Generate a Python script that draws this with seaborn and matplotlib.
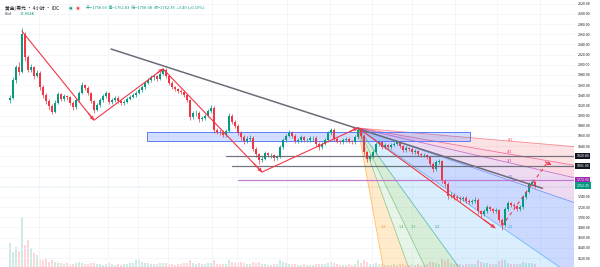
import matplotlib
matplotlib.use("Agg")
import matplotlib.pyplot as plt
import matplotlib.transforms as mtransforms
from matplotlib.patches import Rectangle, Circle
import numpy as np
import pandas as pd
import seaborn as sns

# ---------------- data ----------------
first_open = 1930
closes = [
    1935, 1970, 1995, 1985, 2060, 2015, 1990, 1995, 1978, 1984,
    1956, 1940, 1928, 1918, 1908, 1925, 1942, 1932, 1938, 1936,
    1925, 1917, 1930, 1945, 1960, 1955, 1944, 1928, 1912, 1920,
    1930, 1938, 1944, 1926, 1930, 1935, 1928, 1924, 1927, 1933,
    1937, 1940, 1945, 1950, 1956, 1965, 1970, 1975, 1977, 1973,
    1982, 1990, 1978, 1965, 1956, 1952, 1949, 1946, 1940, 1930,
    1898, 1905, 1906, 1893, 1895, 1900, 1910, 1915, 1872, 1868,
    1867, 1862, 1870, 1900, 1888, 1880, 1866, 1858, 1850, 1855,
    1856, 1835, 1824, 1812, 1815, 1826, 1822, 1822, 1816, 1819,
    1838, 1852, 1860, 1866, 1860, 1850, 1852, 1857, 1852, 1852,
    1856, 1856, 1845, 1838, 1845, 1852, 1865, 1872, 1855, 1850,
    1848, 1852, 1854, 1850, 1848, 1858, 1872, 1860, 1828, 1815,
    1820, 1828, 1845, 1848, 1838, 1842, 1838, 1843, 1845, 1848,
    1840, 1832, 1836, 1835, 1828, 1830, 1824, 1822, 1822, 1818,
    1805, 1795, 1808, 1810, 1772, 1766, 1742, 1744, 1740, 1738,
    1736, 1738, 1733, 1730, 1732, 1735, 1712, 1706, 1712, 1720,
    1716, 1712, 1714, 1695, 1684, 1716, 1728, 1725, 1722, 1717,
    1720, 1740, 1750, 1765, 1770, 1762.35,
]
highs = [
    1940, 1975, 2000, 2005, 2072, 2064, 2020, 2002, 1998, 1990,
    1988, 1960, 1944, 1932, 1922, 1930, 1946, 1945, 1942, 1941,
    1939, 1928, 1934, 1949, 1966, 1963, 1958, 1947, 1931, 1924,
    1934, 1942, 1948, 1947, 1934, 1939, 1938, 1931, 1930, 1936,
    1940, 1944, 1948, 1954, 1960, 1969, 1974, 1979, 1981, 1980,
    1986, 1994, 1993, 1981, 1968, 1959, 1955, 1953, 1950, 1943,
    1933, 1909, 1911, 1909, 1899, 1904, 1914, 1920, 1918, 1876,
    1873, 1871, 1874, 1905, 1903, 1891, 1883, 1869, 1861, 1859,
    1861, 1859, 1838, 1827, 1820, 1830, 1829, 1826, 1825, 1823,
    1842, 1856, 1864, 1871, 1869, 1863, 1856, 1861, 1860, 1856,
    1860, 1860, 1859, 1848, 1849, 1856, 1869, 1876, 1875, 1858,
    1853, 1856, 1858, 1857, 1853, 1862, 1877, 1875, 1863, 1831,
    1824, 1832, 1849, 1852, 1851, 1846, 1845, 1847, 1849, 1852,
    1851, 1843, 1840, 1839, 1838, 1834, 1833, 1827, 1826, 1825,
    1821, 1808, 1812, 1814, 1813, 1776, 1769, 1749, 1748, 1744,
    1742, 1742, 1741, 1736, 1736, 1739, 1738, 1715, 1716, 1724,
    1723, 1719, 1718, 1717, 1699, 1720, 1732, 1731, 1728, 1725,
    1724, 1744, 1754, 1769, 1775, 1772,
]
lows = [
    1925, 1932, 1965, 1980, 1983, 2008, 1985, 1986, 1972, 1975,
    1950, 1935, 1922, 1912, 1903, 1905, 1922, 1928, 1929, 1931,
    1921, 1912, 1914, 1927, 1942, 1950, 1940, 1924, 1906, 1909,
    1917, 1927, 1935, 1922, 1923, 1927, 1925, 1920, 1921, 1924,
    1930, 1934, 1937, 1942, 1947, 1953, 1962, 1967, 1971, 1969,
    1970, 1979, 1974, 1961, 1952, 1948, 1945, 1942, 1936, 1926,
    1892, 1894, 1900, 1888, 1889, 1891, 1897, 1906, 1866, 1863,
    1862, 1857, 1858, 1867, 1884, 1876, 1862, 1853, 1845, 1846,
    1851, 1830, 1819, 1805, 1808, 1812, 1818, 1817, 1811, 1812,
    1816, 1835, 1849, 1857, 1856, 1846, 1846, 1849, 1848, 1848,
    1849, 1851, 1841, 1833, 1835, 1842, 1849, 1862, 1851, 1846,
    1844, 1845, 1849, 1846, 1844, 1845, 1855, 1856, 1823, 1809,
    1811, 1817, 1825, 1841, 1834, 1835, 1834, 1835, 1840, 1842,
    1836, 1828, 1829, 1831, 1824, 1825, 1820, 1818, 1818, 1814,
    1800, 1790, 1792, 1804, 1767, 1760, 1737, 1738, 1735, 1734,
    1731, 1732, 1729, 1726, 1726, 1728, 1707, 1701, 1702, 1709,
    1712, 1708, 1708, 1690, 1676, 1681, 1713, 1721, 1718, 1713,
    1713, 1717, 1737, 1747, 1762, 1758.08,
]
volumes = [
    44, 27, 36, 30, 92, 40, 49, 35, 25, 22,
    13, 12, 16, 10, 13, 9, 8, 7, 6, 7,
    6, 5, 7, 9, 8, 6, 5, 7, 8, 6,
    5, 4, 6, 7, 5, 4, 5, 4, 5, 6,
    7, 8, 12, 13, 9, 8, 7, 6, 6, 5,
    7, 8, 7, 6, 5, 4, 5, 6, 7, 8,
    13, 7, 6, 7, 5, 6, 7, 8, 12, 6,
    5, 5, 6, 13, 10, 7, 8, 9, 8, 6,
    5, 9, 8, 10, 6, 5, 4, 4, 5, 5,
    12, 9, 7, 6, 5, 5, 4, 4, 5, 4,
    4, 4, 6, 6, 5, 6, 8, 9, 7, 5,
    4, 4, 4, 5, 4, 6, 12, 8, 13, 9,
    6, 6, 8, 5, 5, 4, 4, 4, 5, 4,
    5, 6, 4, 4, 5, 4, 5, 4, 4, 5,
    9, 10, 8, 6, 15, 11, 14, 8, 6, 5,
    5, 4, 5, 5, 6, 5, 12, 10, 8, 7,
    6, 6, 5, 11, 13, 12, 8, 6, 5, 6,
    5, 9, 8, 8, 7, 5,
]
price_ticks = list(range(1620, 2121, 20))

# drawings (bar index, price)
zigzag_idx = [4, 28, 51, 84, 116, 161.7]
zigzag_price = [2066, 1891, 1992, 1789, 1876, 1679]
proj_idx = [164, 179]
proj_price = [1683, 1807]
trend_idx = [33.7, 177.5]
trend_price = [2031, 1757]
zone_idx = [45.7, 153.3]
zone_price = [1850, 1868]
hline_levels = [1820.80, 1801.00, 1772.50]
hline_start = [72, 74, 76]
hline_colors = ["#5d606b", "#5d606b", "#ba68c8"]
box_labels = ["1820.80", "1801.00", "1772.50", "1762.35"]
box_levels = [1820.80, 1801.00, 1772.50, 1762.35]
box_colors = ["#131722", "#131722", "#9c27b0", "#089981"]
fan_origin = (116, 1875.7)
fan_end = (164.3, 1679)
fan_labels = ["1/8", "1/4", "1/3", "1/2", "1/1", "2/1", "3/1", "4/1", "8/1"]
fan_dx = [1/8, 1/4, 1/3, 1/2, 1, 1, 1, 1, 1]
fan_dy = [1, 1, 1, 1, 1, 1/2, 1/3, 1/4, 1/8]
fan_line_colors = ["#ff9800", "#4caf50", "#4caf50", "#089981", "#2196f3",
                   "#2962ff", "#9c27b0", "#e91e63", "#f23645"]
fan_fill_colors = ["#ff9800", "#4caf50", "#4caf50", "#2196f3", "#2962ff",
                   "#9c27b0", "#e91e63", "#f23645"]
fan_fill_alpha = [0.2, 0.13, 0.22, 0.16, 0.24, 0.17, 0.17, 0.14]

UP = "#089981"
DN = "#f23645"

# ---------------- figure ----------------
sns.set_theme(style="white")
plt.rcParams["font.family"] = ["Noto Sans CJK SC", "DejaVu Sans"]

fig = plt.figure(figsize=(6.0, 2.67), dpi=100, facecolor="white")
ax = fig.add_axes([0, 0, 574 / 600, 1])
axv = ax.twinx()
ax.set_zorder(axv.get_zorder() + 1)
ax.patch.set_visible(False)

n = len(closes)
idx = np.arange(n)
opens = [first_open] + closes[:-1]
df = pd.DataFrame({"i": idx, "open": opens, "close": closes,
                   "high": highs, "low": lows, "vol": volumes})
df["up"] = df["close"] >= df["open"]
df["color"] = np.where(df["up"], UP, DN)

x_lo, x_hi = -10 / 3, 564 / 3
ax.set_xlim(x_lo, x_hi)
ax.set_ylim(1602.3, 2127.4)
axv.set_ylim(0, 490)

# grid
for p in price_ticks:
    ax.axhline(p, color="#f0f3fa", lw=0.5, zorder=0)
for px in [39, 69, 108, 138, 168, 212, 237, 287, 330, 372, 412, 455, 497, 540]:
    ax.axvline((px - 10) / 3, color="#f0f3fa", lw=0.5, zorder=0)

# volume
axv.bar(df["i"], df["vol"], width=0.7, color=df["color"], alpha=0.2, linewidth=0)
axv.set_yticks([])
for s in axv.spines.values():
    s.set_visible(False)

# gann fan
x0, y0 = fan_origin
DX = fan_end[0] - x0
DY = fan_end[1] - y0
far = []
for fx, fy in zip(fan_dx, fan_dy):
    far.append((x0 + 12 * fx * DX, y0 + 12 * fy * DY))
for k in range(len(fan_fill_colors)):
    pa, pb = far[k], far[k + 1]
    ax.fill([x0, pa[0], pb[0]], [y0, pa[1], pb[1]], color=fan_fill_colors[k],
            alpha=fan_fill_alpha[k], lw=0, zorder=1)
for k, (fx, fy) in enumerate(zip(fan_dx, fan_dy)):
    ax.plot([x0, far[k][0]], [y0, far[k][1]], color=fan_line_colors[k], lw=0.6,
            alpha=0.55, zorder=1.5)
    lx, ly = x0 + fx * DX, y0 + fy * DY
    ax.text(lx + 1.5, ly + 2, fan_labels[k], fontsize=2.6, color=fan_line_colors[k],
            ha="left", va="center", zorder=2, alpha=0.9)

# zone rectangle
ax.add_patch(Rectangle((zone_idx[0], zone_price[0]), zone_idx[1] - zone_idx[0],
                       zone_price[1] - zone_price[0], facecolor="#2962ff", alpha=0.2,
                       edgecolor="none", zorder=1.6))
ax.add_patch(Rectangle((zone_idx[0], zone_price[0]), zone_idx[1] - zone_idx[0],
                       zone_price[1] - zone_price[0], facecolor="none",
                       edgecolor="#5b7cfa", lw=0.7, zorder=1.7))

# candles
ax.vlines(df["i"], df["low"], df["high"], colors=df["color"], lw=0.5, zorder=3)
body_lo = np.minimum(df["open"], df["close"])
body_h = np.maximum(np.abs(df["close"] - df["open"]), 0.8)
ax.bar(df["i"], body_h, bottom=body_lo, width=0.7, color=df["color"], lw=0, zorder=3.1)

# horizontal levels
for lvl, st, col in zip(hline_levels, hline_start, hline_colors):
    ax.plot([st, x_hi], [lvl, lvl], color=col, lw=0.9, alpha=0.85, zorder=4)
ax.axhline(closes[-1], color=UP, lw=0.4, ls=(0, (1, 3)), alpha=0.5, zorder=4)

# trend line
sns.lineplot(x=trend_idx, y=trend_price, ax=ax, color="#6a6d78", lw=1.1,
             sort=False, estimator=None, zorder=5)

# zigzag arrows
sns.lineplot(x=zigzag_idx, y=zigzag_price, ax=ax, color=DN, lw=0.8,
             sort=False, estimator=None, zorder=5)
for k in range(1, len(zigzag_idx)):
    xa, ya = zigzag_idx[k - 1], zigzag_price[k - 1]
    xb, yb = zigzag_idx[k], zigzag_price[k]
    xs, ys = xb - 0.08 * (xb - xa), yb - 0.08 * (yb - ya)
    ax.annotate("", xy=(xb, yb), xytext=(xs, ys),
                arrowprops=dict(arrowstyle="->", color=DN, lw=0.8,
                                mutation_scale=5, shrinkA=0, shrinkB=0), zorder=5)
# projection (dashed)
ax.plot(proj_idx, proj_price, color=DN, lw=0.8, ls=(0, (3, 3)), zorder=5)
ax.annotate("", xy=(proj_idx[1] + 1.5, proj_price[1] - 4),
            xytext=(proj_idx[1] - 0.5, proj_price[1] + 2),
            arrowprops=dict(arrowstyle="->", color=DN, lw=0.8, mutation_scale=5,
                            shrinkA=0, shrinkB=0), zorder=5)

# axis styling
for s in ax.spines.values():
    s.set_visible(False)
ax.set_xticks([])
ax.yaxis.tick_right()
ax.set_yticks(price_ticks)
tick_text = []
for p in price_ticks:
    hidden = any(abs(p - b) < 9 for b in box_levels)
    tick_text.append("" if hidden else f"{p:.2f}")
ax.set_yticklabels(tick_text)
ax.tick_params(axis="y", labelsize=2.6, length=0, pad=3, labelcolor="#131722")
ax.set_xlabel("")
ax.set_ylabel("")

trans = mtransforms.blended_transform_factory(ax.transAxes, ax.transData)
for txt, lvl, col in zip(box_labels, box_levels, box_colors):
    ax.text(1.004, lvl, txt, transform=trans, fontsize=2.6, color="white",
            ha="left", va="center", clip_on=False, zorder=10,
            bbox=dict(boxstyle="square,pad=0.35", fc=col, ec="none"))

# header
fig.text(0.008, 0.969, "黄金/美元 · 4小时 · IDC", fontsize=3.4, color="#131722",
         ha="left", va="center")
fig.patches.append(Circle((0.118 * 600, 0.969 * 267), 2.6, transform=None,
                          facecolor="#d7f0ec", edgecolor="none", figure=fig))
fig.patches.append(Circle((0.118 * 600, 0.969 * 267), 1.2, transform=None,
                          facecolor=UP, edgecolor="none", figure=fig))
fig.patches.append(Circle((0.130 * 600, 0.969 * 267), 2.6, transform=None,
                          facecolor="#fbdde0", edgecolor="none", figure=fig))
fig.patches.append(Circle((0.130 * 600, 0.969 * 267), 1.2, transform=None,
                          facecolor=DN, edgecolor="none", figure=fig))
fig.text(0.143, 0.969, "开=1758.93  高=1762.83  低=1758.08  收=1762.35  +3.40 (+0.19%)",
         fontsize=2.9, color=UP, ha="left", va="center")
fig.text(0.008, 0.946, "Vol", fontsize=2.9, color="#131722", ha="left", va="center")
fig.text(0.032, 0.946, "17.004K", fontsize=2.9, color=UP, ha="left", va="center")

fig.savefig("out.png", dpi=100, facecolor="white")
